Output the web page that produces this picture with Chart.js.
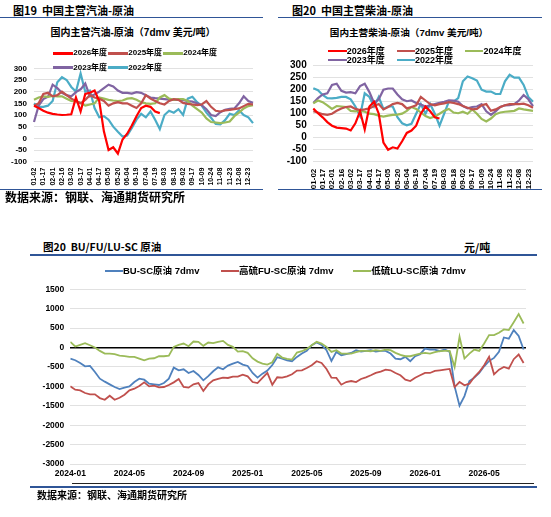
<!DOCTYPE html>
<html lang="zh-CN">
<head>
<meta charset="utf-8">
<title>主营汽柴油-原油 / BU FU LU-SC 原油</title>
<script src="https://cdn.jsdelivr.net/npm/chart.js@4.4.1/dist/chart.umd.min.js"></script>
<style>
  html, body { margin: 0; padding: 0; background: #fff; }
  body { position: relative; width: 551px; height: 517px; overflow: hidden;
         font-family: "Liberation Sans", "Noto Sans CJK SC", sans-serif; color: #000; }
  .t { position: absolute; white-space: nowrap; line-height: 1; font-weight: bold; }
  .cjk { font-family: "Noto Sans CJK SC", sans-serif; }
  .bar { position: absolute; background: #2F5597; }
  canvas { position: absolute; }
  .key { position: absolute; white-space: nowrap; font-weight: bold; line-height: 1;
         display: flex; align-items: center; }
  .key i { display: inline-block; height: 2.5px; }
</style>
</head>
<body>

<!-- 上方两张小图 -->
<div class="t cjk" style="left:13px;top:4.5px;font-size:11px">图19&nbsp;&nbsp;中国主营汽油-原油</div>
<div class="t cjk" style="left:292px;top:4.5px;font-size:11px">图20&nbsp;&nbsp;中国主营柴油-原油</div>
<div class="bar" style="left:0;top:16.5px;width:263px;height:1.5px"></div>
<div class="bar" style="left:278px;top:16.5px;width:264px;height:1.5px"></div>

<div class="t" style="left:133px;top:28.3px;font-size:10px;transform:translateX(-50%)">国内主营汽油-原油（7dmv 美元/吨）</div>
<div class="t" style="left:409px;top:28.2px;font-size:9.6px;transform:translateX(-50%)">国内主营柴油-原油（7dmv 美元/吨）</div>

<canvas id="gasChart" width="270" height="190" style="left:0;top:0"></canvas>
<canvas id="dslChart" width="276" height="190" style="left:275px;top:0"></canvas>

<div class="bar" style="left:0;top:188.5px;width:263px;height:1.5px"></div>
<div class="bar" style="left:278px;top:188.5px;width:264px;height:1.5px"></div>
<div class="t cjk" style="left:5px;top:191px;font-size:12px">数据来源：钢联、海通期货研究所</div>

<!-- 下方大图 -->
<div class="t cjk" style="left:43px;top:241.7px;font-size:10.5px">图20&nbsp;&nbsp;BU/FU/LU-SC 原油</div>
<div class="t cjk" style="left:464px;top:241.5px;font-size:11px">元/吨</div>
<div class="bar" style="left:30px;top:254px;width:507px;height:2px"></div>

<canvas id="spreadChart" width="551" height="230" style="left:0;top:258px"></canvas>

<div style="position:absolute;left:72px;top:482.5px;width:462px;height:1.5px;background:#222"></div>
<div class="bar" style="left:30px;top:485.5px;width:507px;height:2px"></div>
<div class="t cjk" style="left:37px;top:490px;font-size:10px">数据来源：钢联、海通期货研究所</div>

<script>
// ---- 上图：按年度的日期刻度（每两个点一个标签）----
const dayTicks = ['01-02','01-17','02-01','02-16','03-02','03-17','04-01','04-17','05-05','05-20','06-04','06-19',
                  '07-04','07-19','08-03','08-18','09-02','09-17','10-09','10-24','11-08','11-23','12-08','12-23'];
const years = ['2026年度', '2025年度', '2024年度', '2023年度', '2022年度'];
const yearColors = ['#FF0000', '#C0504D', '#9BBB59', '#8064A2', '#4BACC6'];

// 汽油-原油 (美元/吨)
const gas2026 = [140,130,118,110,105,102,100,101,103,175,115,190,195,205,160,30,-50,-38,-65,-5,
                 20,55,95,130,140,135,115,108];
const gas2025 = [140,150,190,195,180,185,200,185,170,160,150,165,185,175,170,160,140,150,155,150,
                 150,140,130,150,185,170,160,150,145,160,168,165,152,148,145,142,145,160,135,118,
                 115,120,122,125,128,138,148,145];
const gas2024 = [165,175,180,178,182,180,180,170,160,158,152,140,145,150,175,170,165,162,160,162,
                 170,172,165,155,150,148,150,175,185,170,165,168,168,160,140,125,110,85,70,68,
                 65,68,72,95,110,128,138,142];
const gas2023 = [70,140,168,178,230,215,195,185,180,198,210,235,180,188,200,215,230,222,205,195,
                 195,192,198,195,185,175,172,170,168,166,165,165,164,160,157,150,142,125,100,95,
                 112,122,126,128,150,180,160,152];
const gas2022 = [150,135,135,140,160,240,262,250,220,200,278,200,205,130,90,95,80,50,28,8,
                 12,45,80,105,90,115,80,40,100,118,110,125,100,170,178,155,140,110,88,62,
                 60,78,105,100,120,100,90,65];

// 柴油-原油 (美元/吨)
const dsl2026 = [122,102,85,65,50,42,40,38,30,60,110,35,130,150,100,-20,-50,-40,-45,-15,
                 20,30,50,100,130,110,85,80];
const dsl2025 = [110,105,98,95,100,112,122,128,130,120,115,118,122,132,140,118,128,140,145,140,
                 122,128,135,170,155,140,135,140,143,148,145,140,132,125,118,120,135,140,112,118,
                 128,135,140,140,140,142,135,125];
const dsl2024 = [143,155,148,135,120,132,130,128,112,110,112,108,100,98,92,88,92,95,96,100,
                 112,128,120,105,90,82,88,100,112,120,105,102,108,100,118,100,78,68,80,98,
                 105,108,110,112,122,118,115,112];
const dsl2023 = [145,165,180,185,220,225,195,188,190,185,215,225,190,145,160,200,205,205,180,160,
                 152,155,145,138,130,135,140,145,150,156,155,150,132,122,128,130,140,110,95,110,
                 128,135,136,140,155,178,160,132];
const dsl2022 = [206,198,178,165,164,166,170,170,160,130,90,185,170,130,170,120,130,130,85,60,
                 52,58,100,140,100,140,100,50,100,150,150,165,235,255,248,238,200,192,192,182,
                 182,235,262,250,250,220,170,150];

// ---- 下图：价差 7dmv (元/吨)，约每 1/3 个月一个点，从 2024-01 初开始 ----
const monthTicks = ['2024-01','2024-05','2024-09','2025-01','2025-05','2025-09','2026-01','2026-05'];
const spreadNames = ['BU-SC原油 7dmv', '高硫FU-SC原油 7dmv', '低硫LU-SC原油 7dmv'];
const spreadColors = ['#4F81BD', '#C0504D', '#9BBB59'];
const buSc = [-284,-328,-397,-483,-474,-629,-802,-879,-948,-1017,
              -1069,-1034,-1000,-888,-802,-828,-931,-948,-965,-914,
              -802,-517,-586,-560,-655,-603,-707,-845,-737,-612,
              -509,-560,-465,-414,-370,-440,-474,-655,-776,-672,
              -595,-450,-250,-284,-328,-353,-241,-155,-86,60,
              129,69,-69,-345,-112,-198,-172,-140,-69,-103,
              -86,-69,-103,-86,-86,-155,-284,-302,-241,-353,
              -224,-172,-26,-52,-52,-95,-52,-112,-1000,-1500,
              -1250,-862,-776,-655,-483,-345,-267,-112,259,230,
              450,300,-50];
const fuSc = [-1000,-1086,-1103,-1172,-1207,-1207,-1302,-1345,-1241,-1345,
              -1293,-1215,-1103,-1060,-991,-897,-1000,-983,-1026,-1017,
              -965,-897,-810,-1017,-1034,-948,-914,-1120,-950,-845,
              -810,-776,-784,-750,-750,-698,-741,-888,-914,-784,
              -655,-960,-767,-776,-741,-690,-595,-586,-526,-457,
              -353,-397,-552,-776,-784,-957,-888,-862,-888,-810,
              -767,-715,-655,-621,-569,-586,-655,-715,-828,-862,
              -776,-715,-655,-655,-603,-586,-569,-552,-1017,-888,
              -974,-931,-759,-629,-457,-241,-690,-569,-500,-543,
              -300,-180,-400];
const luSc = [147,26,69,112,60,0,-86,-155,-155,-172,
              -207,-224,-241,-241,-284,-328,-284,-276,-224,-224,
              -207,17,69,103,34,155,147,43,130,112,
              147,172,69,17,-103,-95,-138,-276,-362,-414,
              -440,-380,-164,-259,-293,-310,-129,-95,-34,60,
              147,103,17,-112,-69,-155,-155,-155,-121,-86,
              -86,-95,-69,-86,-52,-69,-138,-190,-224,-224,
              -190,-155,-138,-155,-121,-95,-86,-86,-500,276,
              -284,-155,-52,-86,103,319,319,379,465,450,
              650,860,620];

Chart.defaults.font.family = '"Liberation Sans", "Noto Sans CJK SC", sans-serif';
Chart.defaults.font.weight = 'bold';
Chart.defaults.color = '#000';

// 年度对比小图
function yearChart(id, series, lay) {
  const cats = series[1].map((_, i) => (i % 2 ? '' : dayTicks[i / 2]));
  return new Chart(document.getElementById(id), {
    type: 'line',
    data: {
      labels: cats,
      datasets: series.map((d, k) => ({
        label: years[k],
        data: d,
        borderColor: yearColors[k],
        backgroundColor: yearColors[k],
        borderWidth: 2.2,
        pointRadius: 0,
        tension: 0,
        fill: false
      }))
    },
    options: {
      responsive: false,
      animation: false,
      events: [],
      layout: { padding: { top: lay.top, right: lay.right, bottom: 0, left: 0 } },
      plugins: { legend: { display: false }, tooltip: { enabled: false } },
      scales: {
        x: {
          grid: { display: false, drawTicks: false },
          border: { display: false },
          ticks: { autoSkip: false, minRotation: 90, maxRotation: 90, padding: lay.xpad,
                   font: { size: lay.xfont, weight: 'bold' } },
          afterFit: s => { s.height = lay.xh; }
        },
        y: {
          min: -100, max: 300,
          ticks: { stepSize: 50, autoSkip: false, padding: lay.ypad,
                   font: { size: lay.yfont, weight: 'bold' }, callback: v => String(v) },
          grid: { color: '#D9D9D9', lineWidth: 0.8, drawTicks: false },
          border: { display: false },
          afterFit: s => { s.width = lay.yw; }
        }
      }
    }
  });
}

yearChart('gasChart', [gas2026, gas2025, gas2024, gas2023, gas2022],
  { top: 68.3, right: 17, xh: 28.3, yw: 34, xpad: 6, ypad: 7, xfont: 7, yfont: 8 });
yearChart('dslChart', [dsl2026, dsl2025, dsl2024, dsl2023, dsl2022],
  { top: 65.7, right: 18, xh: 28.3, yw: 38.3, xpad: 7, ypad: 6.6, xfont: 8, yfont: 10 });

// 价差大图
const step = 1 / 3;
const pts = arr => arr.map((v, i) => ({ x: i * step, y: v }));
new Chart(document.getElementById('spreadChart'), {
  type: 'line',
  data: {
    datasets: [
      { label: spreadNames[0], data: pts(buSc), borderColor: spreadColors[0], order: 2 },
      { label: spreadNames[1], data: pts(fuSc), borderColor: spreadColors[1], order: 1 },
      { label: spreadNames[2], data: pts(luSc), borderColor: spreadColors[2], order: 0 }
    ]
  },
  options: {
    responsive: false,
    animation: false,
    events: [],
    layout: { padding: { top: 31.3, right: 25, bottom: 0, left: 0 } },
    elements: { line: { borderWidth: 1.8, tension: 0, fill: false }, point: { radius: 0 } },
    plugins: { legend: { display: false }, tooltip: { enabled: false } },
    scales: {
      x: {
        type: 'linear', min: 0, max: 30.83,
        grid: { display: false, drawTicks: false },
        border: { display: false },
        ticks: { stepSize: 4, includeBounds: false, autoSkip: false, maxRotation: 0, padding: 5,
                 font: { size: 8.5, weight: 'bold' },
                 callback: v => monthTicks[Math.round(v / 4)] },
        afterFit: s => { s.height = 24; }
      },
      y: {
        min: -3000, max: 1500,
        ticks: { stepSize: 500, autoSkip: false, padding: 6,
                 font: { size: 8.5, weight: 'bold' }, callback: v => String(v) },
        grid: {
          drawTicks: false,
          color: c => (c.tick.value === 0 ? '#000' : '#D9D9D9'),
          lineWidth: c => (c.tick.value === 0 ? 1.6 : 0.8)
        },
        border: { display: false },
        afterFit: s => { s.width = 70.3; }
      }
    }
  }
});

// 图例（与原图一样压在绘图区上沿）
function addKeys(names, colors, spots, size, lineW) {
  names.forEach((name, k) => {
    const el = document.createElement('div');
    el.className = 'key';
    el.style.left = spots[k][0] + 'px';
    el.style.top = spots[k][1] + 'px';
    el.style.fontSize = size + 'px';
    el.style.height = size + 'px';
    el.innerHTML = '<i style="width:' + lineW + 'px;background:' + colors[k] + '"></i>' + name;
    document.body.appendChild(el);
  });
}
addKeys(years, yearColors, [[53.3, 49.3], [108.3, 49.3], [163.3, 49.3], [53.3, 63.7], [108.3, 63.7]], 8, 20);
addKeys(years, yearColors, [[328.3, 46.5], [396.7, 46.5], [465, 46.5], [328.3, 55.5], [396.7, 55.5]], 9, 18.4);
addKeys(spreadNames, spreadColors, [[104.7, 266.2], [220.7, 266.2], [353, 266.2]], 9.5, 18.3);
</script>
</body>
</html>
